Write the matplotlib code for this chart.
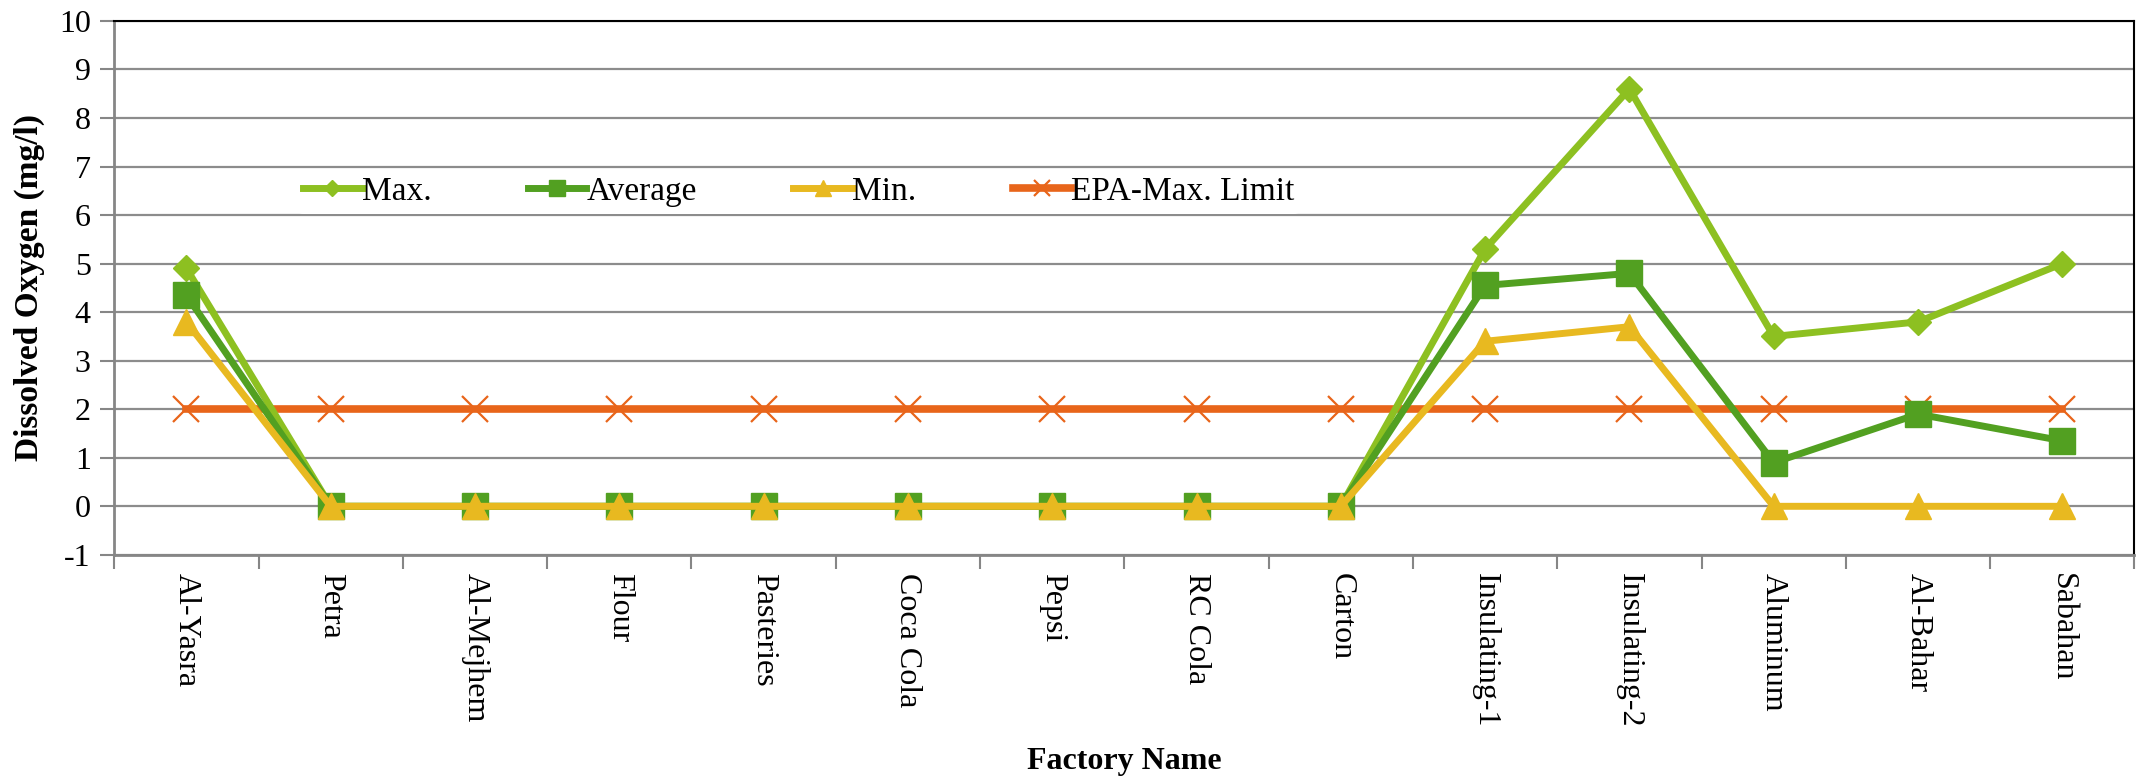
import numpy as np
import matplotlib.pyplot as plt
from matplotlib.ticker import FixedLocator

# Factories and measured dissolved oxygen (mg/l)
factories = ['Al-Yasra', 'Petra', 'Al-Mejhem', 'Flour', 'Pasteries', 'Coca Cola',
             'Pepsi', 'RC Cola', 'Carton', 'Insulating-1', 'Insulating-2',
             'Aluminum', 'Al-Bahar', 'Sabahan']
do_max = [4.9, 0, 0, 0, 0, 0, 0, 0, 0, 5.3, 8.6, 3.5, 3.8, 5.0]
do_avg = [4.35, 0, 0, 0, 0, 0, 0, 0, 0, 4.55, 4.8, 0.9, 1.9, 1.35]
do_min = [3.8, 0, 0, 0, 0, 0, 0, 0, 0, 3.4, 3.7, 0, 0, 0]
epa_limit = [2] * 14

plt.rcParams['font.family'] = ['Liberation Serif', 'DejaVu Serif']
plt.rcParams['axes.unicode_minus'] = False

fig = plt.figure(figsize=(21.56, 7.76), dpi=100)
ax = fig.add_axes([0.053, 0.285, 0.937, 0.688])

x = np.arange(len(factories))
ax.plot(x, do_max, color='#8DC021', lw=5, marker='D', ms=13, label='Max.', zorder=4)
ax.plot(x, do_avg, color='#52A021', lw=5, marker='s', ms=18.5, label='Average', zorder=5)
ax.plot(x, do_min, color='#E8B920', lw=5, marker='^', ms=18.5, label='Min.', zorder=6)
ax.plot(x, epa_limit, color='#E8651A', lw=5.5, marker='x', ms=18.5, mew=1.6,
        label='EPA-Max. Limit', zorder=3)

ax.set_xlim(-0.5, len(factories) - 0.5)
ax.set_ylim(-1, 10)
ax.set_yticks(range(-1, 11))
ax.set_xticks(x)
ax.set_xticklabels(factories, rotation=270, fontsize=23)
ax.xaxis.set_minor_locator(FixedLocator(np.arange(-0.5, len(factories), 1)))
ax.tick_params(axis='x', which='major', length=0, pad=13)
ax.tick_params(axis='x', which='minor', length=10, width=1.5, color='#868686')
ax.tick_params(axis='y', labelsize=23, length=10, width=1.5, color='#868686', pad=7)

ax.grid(axis='y', color='#8c8c8c', lw=1.6)
ax.set_axisbelow(True)
for side in ['left', 'bottom']:
    ax.spines[side].set_color('#868686')
    ax.spines[side].set_linewidth(2)
for side in ['top', 'right']:
    ax.spines[side].set_color('black')
    ax.spines[side].set_linewidth(1.5)

ax.set_ylabel('Dissolved Oxygen (mg/l)', fontsize=24, fontweight='bold', labelpad=10)
ax.set_xlabel('Factory Name', fontsize=23, fontweight='bold', labelpad=14)

leg = ax.legend(loc='center left', bbox_to_anchor=(0.082, 0.68), ncol=4, frameon=True,
                fontsize=24, handlelength=1.75, handletextpad=0.0, columnspacing=2.9,
                borderpad=0.2, markerscale=0.6)
leg.get_frame().set_edgecolor('none')
leg.get_frame().set_facecolor('white')
leg.get_frame().set_alpha(1)

fig.savefig('out.png', dpi=100)
